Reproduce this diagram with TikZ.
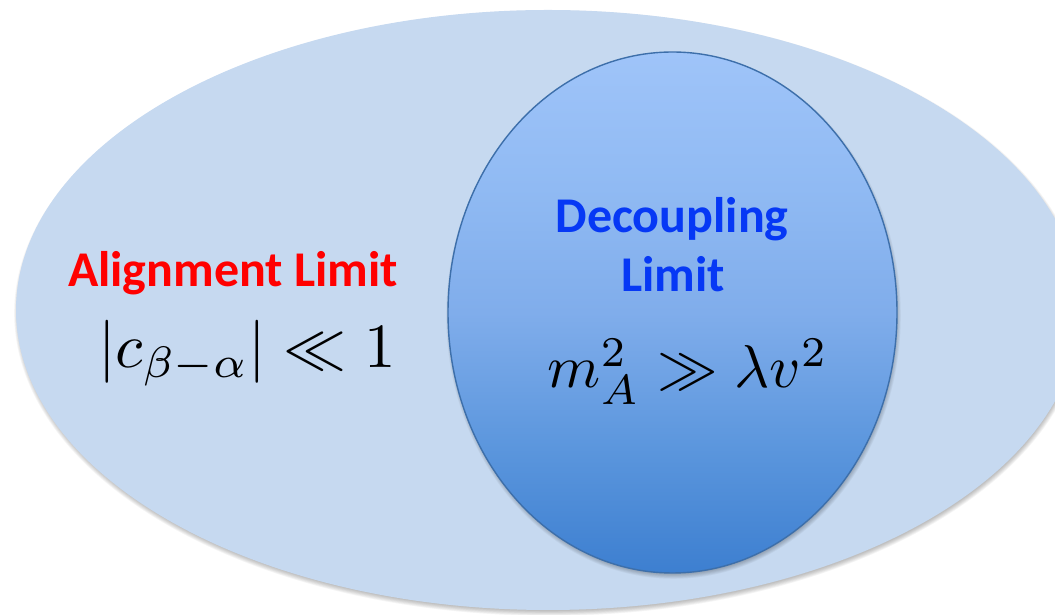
\documentclass[tikz,border=0pt]{standalone}
\usepackage{fontspec}
\newfontfamily\labelfont{Carlito}
\usetikzlibrary{shapes.geometric}

\definecolor{outerfill}{HTML}{C6D9F0}
\definecolor{innerline}{HTML}{3D6FAA}
\definecolor{alignred}{HTML}{FF0000}
\definecolor{decblue}{HTML}{0638F5}

% vertical fill of the inner set: dark at the bottom, light at the top
\definecolor{gA}{HTML}{3D7FD0}
\definecolor{gB}{HTML}{5B96DD}
\definecolor{gC}{HTML}{80ADEB}
\definecolor{gD}{HTML}{90BAF3}
\definecolor{gE}{HTML}{9FC4F9}
\pgfdeclareverticalshading{innergrad}{100bp}{%
  color(0bp)=(gA); color(25bp)=(gA); color(37bp)=(gB);
  color(50bp)=(gC); color(62bp)=(gD); color(75bp)=(gE); color(100bp)=(gE)}

\tikzset{
  setshape/.style={ellipse, inner sep=0pt, outer sep=0pt},
  titlelabel/.style={font=\labelfont\bfseries\fontsize{50}{60}\selectfont, anchor=base, inner sep=0pt},
  formula/.style={font=\normalsize, anchor=base, inner sep=0pt, text=black},
}

% soft shadow: stacked translucent ellipses, slightly offset downwards
\newcommand\softshadow[3]{%
  \foreach \k in {0,...,6}{%
    \fill[black, opacity=0.04]
      ([xshift=1pt, yshift=-3pt]#1) ellipse [x radius={#2-2+0.8*\k}, y radius={#3-2+0.8*\k}];
  }%
}

\begin{document}
\begin{tikzpicture}[x=1pt, y=1pt]
  \useasboundingbox (0,0) rectangle (1055,615);
  \clip (0,0) rectangle (1055,615);

  % outer set
  \coordinate (oc) at (548,305);
  \softshadow{oc}{532}{300}
  \node[setshape, minimum width=1064pt, minimum height=600pt, fill=outerfill] (alignset) at (oc) {};

  % inner set
  \coordinate (ic) at (672.5,302.5);
  \softshadow{ic}{224.5}{260.5}
  \node[setshape, minimum width=449pt, minimum height=521pt, shading=innergrad,
        draw=innerline, line width=1.4pt] (decset) at (ic) {};

  % labels
  \node[titlelabel, text=alignred] (aligntitle) at (233,328) {Alignment Limit};
  \node[formula, scale=6.3] (alignformula) at (247,247) {$|c_{\beta-\alpha}|\ll 1$};

  \node[titlelabel, text=decblue] (dectitle) at (672,382) {Decoupling};
  \node[titlelabel, text=decblue] (declimit) at (673,323) {Limit};
  \node[formula, scale=6.05] (decformula) at (688,227) {$m_A^2\gg\lambda v^2$};
\end{tikzpicture}
\end{document}
